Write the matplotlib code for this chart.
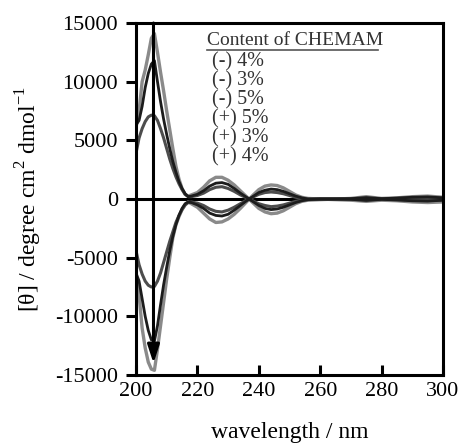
import matplotlib
matplotlib.use('Agg')
import matplotlib.pyplot as plt

plt.rcParams['font.family'] = ['Liberation Serif', 'DejaVu Serif']
plt.rcParams['mathtext.fontset'] = 'custom'
plt.rcParams['mathtext.rm'] = 'Liberation Serif'
plt.rcParams['axes.unicode_minus'] = False

# wavelength (nm)
wl = [200, 201, 202, 203, 204, 205, 206, 207, 208, 209, 210, 211, 212, 213, 214, 215, 216, 217, 218,
      220, 222, 224, 226, 228, 230, 232, 234, 236, 238, 240, 242, 244, 246, 248, 250, 252, 254, 256,
      260, 265, 270, 275, 280, 285, 290, 295, 300]

# (-) series: positive band at 206 nm
minus_4 = [6100, 7500, 10000, 11000, 12300, 13700, 14100, 12500, 10800, 9200, 7500, 5900, 4300, 2800, 1700, 900, 400, 250, 350,
           550, 1000, 1550, 1850, 1850, 1600, 1200, 700, 200, -300, -800, -1100, -1250, -1200, -1000, -700, -400, -200, -100,
           -50, 0, 50, 200, 50, 100, 200, 250, 150]
minus_3 = [6300, 6700, 7900, 9500, 10700, 11500, 11800, 10000, 8300, 6800, 5500, 4300, 3200, 2300, 1500, 900, 450, 200, 250,
           400, 700, 1100, 1350, 1400, 1250, 900, 500, 150, -200, -550, -800, -900, -850, -700, -500, -300, -150, -50,
           0, 0, 30, 120, 30, 80, 150, 180, 100]
minus_5 = [3900, 5200, 6000, 6600, 7000, 7150, 7100, 6700, 6000, 5200, 4300, 3400, 2600, 1900, 1300, 800, 400, 200, 200,
           300, 500, 800, 1000, 1050, 900, 650, 350, 100, -150, -400, -550, -650, -600, -500, -350, -200, -100, -50,
           0, 0, 20, 80, 20, 50, 100, 120, 80]

# (+) series: negative band at 206 nm
plus_5 = [-4400, -5600, -6400, -7000, -7350, -7500, -7450, -7000, -6300, -5400, -4500, -3600, -2800, -2000, -1400, -900, -500, -300, -250,
          -350, -550, -850, -1050, -1100, -950, -700, -400, -100, 150, 400, 550, 600, 550, 450, 300, 150, 50, 0,
          0, 0, -20, -80, -20, -50, -100, -120, -80]
plus_3 = [-6300, -7000, -8500, -10000, -11200, -12000, -12100, -10800, -9000, -7300, -5800, -4400, -3200, -2200, -1400, -800, -400, -250, -300,
          -500, -800, -1200, -1400, -1450, -1300, -950, -550, -150, 200, 550, 750, 850, 800, 650, 450, 250, 100, 0,
          0, 0, -30, -120, -30, -80, -150, -180, -100]
plus_4 = [-6700, -8200, -11000, -12700, -13900, -14500, -14600, -12800, -10800, -8800, -6800, -5000, -3300, -2200, -1500, -900, -500, -250, -400,
          -700, -1200, -1700, -2000, -1950, -1700, -1300, -800, -250, 300, 800, 1100, 1200, 1150, 950, 650, 350, 150, 50,
          0, -50, -100, -200, -100, -150, -250, -300, -250]

series = [
    (minus_4, '#8a8a8a', 2.4),
    (plus_4, '#8a8a8a', 2.4),
    (minus_5, '#4d4d4d', 2.2),
    (plus_5, '#4d4d4d', 2.2),
    (minus_3, '#1c1c1c', 2.0),
    (plus_3, '#1c1c1c', 2.0),
]
labels = ['(-) 4%', '(-) 3%', '(-) 5%', '(+) 5%', '(+) 3%', '(+) 4%']

fig = plt.figure(figsize=(4.61, 4.43), dpi=100)
ax = fig.add_axes([0.295, 0.1535, 0.666, 0.7945])

ax.axhline(0, color='black', lw=2.2, zorder=1)
for ys, c, lw in series:
    ax.plot(wl, ys, color=c, lw=lw, zorder=2, solid_joinstyle='round')

ax.annotate('', xy=(205.7, -14000), xytext=(205.7, 15000),
            arrowprops=dict(arrowstyle='-|>,head_length=0.55,head_width=0.18', color='black',
                            lw=2.2, shrinkA=0, shrinkB=0, mutation_scale=20), zorder=5)

ax.set_xlim(200, 300)
ax.set_ylim(-15000, 15000)
ax.set_xticks([200, 220, 240, 260, 280, 300])
ax.set_yticks([-15000, -10000, -5000, 0, 5000, 10000, 15000])
ax.tick_params(axis='x', direction='in', length=7, width=2.2, labelsize=16, pad=5)
ax.tick_params(axis='y', direction='out', length=7, width=2.2, labelsize=16, pad=6)
for s in ax.spines.values():
    s.set_linewidth(2.2)

ax.set_xlabel('wavelength / nm', fontsize=17, labelpad=15)
ax.set_ylabel(r'[θ] / degree cm$^{\mathregular{2}}$ dmol$^{\mathregular{-1}}$', fontsize=17, labelpad=8)

ax.text(0.231, 0.949, 'Content of CHEMAM', transform=ax.transAxes, fontsize=14,
        color='#333333', va='center', ha='left')
ax.plot([0.231, 0.788], [0.922, 0.922], transform=ax.transAxes, color='#555555', lw=1.2)
for i, lab in enumerate(labels):
    ax.text(0.248, 0.889 - i * 0.054, lab, transform=ax.transAxes, fontsize=14.5,
            color='#333333', va='center', ha='left')

fig.savefig('out.png', dpi=100)
